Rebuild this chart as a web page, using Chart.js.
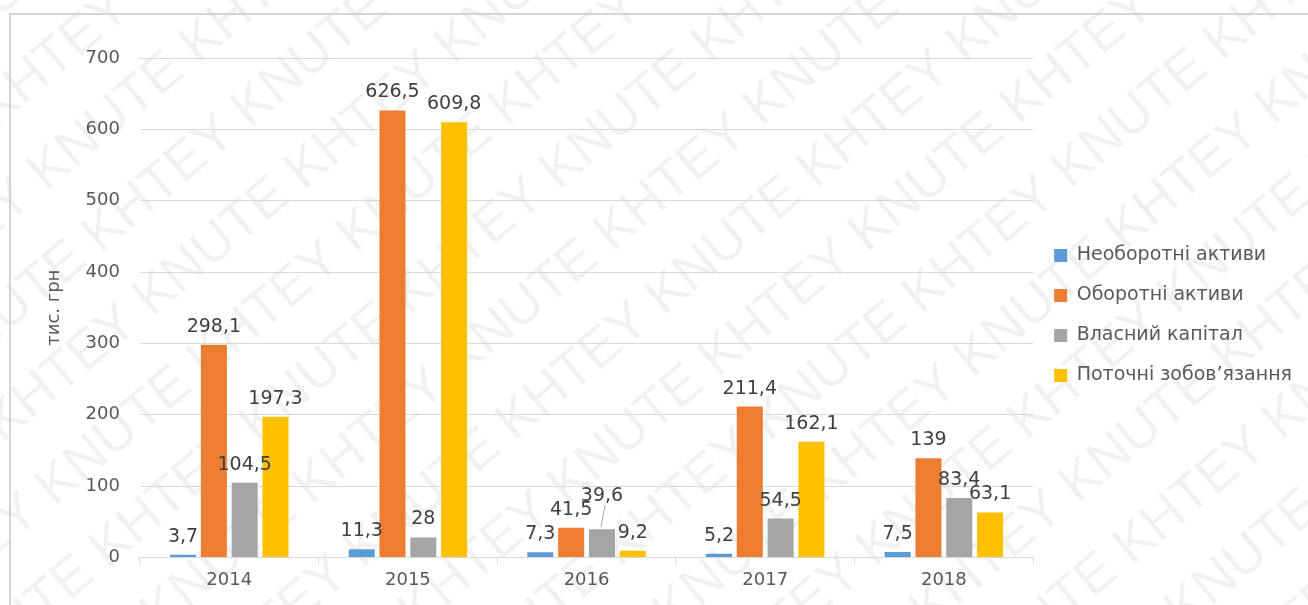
<!DOCTYPE html>
<html lang="uk">
<head>
<meta charset="utf-8">
<script src="https://cdn.jsdelivr.net/npm/chart.js@4"></script>
<style>
    html, body { margin: 0; padding: 0; background: #ffffff; }
    #wrap { width: 1308px; height: 605px; position: relative; }
</style>
</head>
<body>
<div id="wrap"><canvas id="balanceChart"></canvas></div>
<script>
// Data
const years = ['2014', '2015', '2016', '2017', '2018'];
const nonCurrentAssets = [3.7, 11.3, 7.3, 5.2, 7.5];
const currentAssets = [298.1, 626.5, 41.5, 211.4, 139];
const equity = [104.5, 28, 39.6, 54.5, 83.4];
const currentLiabilities = [197.3, 609.8, 9.2, 162.1, 63.1];
const seriesNames = ['Необоротні активи', 'Оборотні активи', 'Власний капітал', 'Поточні зобов’язання'];
const yTicks = [0, 100, 200, 300, 400, 500, 600, 700];

const textColor = '#595959';
const labelColor = '#404040';
const gridColor = '#d9d9d9';
const fontFamily = '"DejaVu Sans", sans-serif';

// Faint diagonal watermark and the outer frame, drawn under everything else
const backdropPlugin = {
    id: 'backdrop',
    beforeDraw(chart) {
        const ctx = chart.ctx;
        const w = chart.width, h = chart.height;
        ctx.save();
        ctx.fillStyle = '#ffffff';
        ctx.fillRect(0, 0, w, h);
        ctx.translate(w / 2, h / 2);
        ctx.rotate(-40 * Math.PI / 180);
        ctx.font = '54px "Liberation Sans", sans-serif';
        ctx.fillStyle = 'rgba(0, 0, 0, 0.055)';
        ctx.textBaseline = 'middle';
        const phrase = 'KHTEY KNUTE ';
        const line = phrase.repeat(10);
        const lineW = ctx.measureText(line).width;
        const phraseW = ctx.measureText(phrase).width;
        let row = 0;
        for (let y = -900; y <= 900; y += 82) {
            const shift = (row % 2) * phraseW / 2;
            ctx.fillText(line, -lineW / 2 + shift, y);
            row++;
        }
        ctx.restore();

        // frame lines (top and left)
        ctx.save();
        ctx.strokeStyle = '#c8c8c8';
        ctx.lineWidth = 1.5;
        ctx.beginPath();
        ctx.moveTo(10, h);
        ctx.lineTo(10, 14);
        ctx.lineTo(w, 14);
        ctx.stroke();
        ctx.restore();
    }
};

// Move the legend block up a little, as in the original
const legendShiftPlugin = {
    id: 'legendShift',
    afterLayout(chart) {
        if (chart.legend) {
            chart.legend.top -= 12;
            chart.legend.bottom -= 12;
        }
    }
};

// Value labels above the bars, nudged up when they would collide
const valueLabelPlugin = {
    id: 'valueLabels',
    afterDatasetsDraw(chart) {
        const ctx = chart.ctx;
        ctx.save();
        ctx.font = '19px ' + fontFamily;
        ctx.fillStyle = labelColor;
        ctx.textAlign = 'center';
        ctx.textBaseline = 'alphabetic';
        const placed = {};
        chart.data.datasets.forEach((ds, di) => {
            const meta = chart.getDatasetMeta(di);
            meta.data.forEach((bar, i) => {
                const text = String(ds.data[i]).replace('.', ',');
                const tw = ctx.measureText(text).width;
                let base = bar.y - 13;
                const boxes = placed[i] || (placed[i] = []);
                let moved = false;
                boxes.forEach(b => {
                    const overlapX = Math.abs(b.x - bar.x) < (b.w + tw) / 2;
                    const overlapY = base > b.base - 14 && base - 14 < b.base;
                    if (overlapX && overlapY) {
                        base = b.base - 14;
                        moved = true;
                    }
                });
                ctx.fillText(text, bar.x, base);
                if (moved) {
                    ctx.strokeStyle = '#a6a6a6';
                    ctx.lineWidth = 1;
                    ctx.beginPath();
                    ctx.moveTo(bar.x + 3, base + 4);
                    ctx.lineTo(bar.x - 1, bar.y - 2);
                    ctx.stroke();
                }
                boxes.push({ x: bar.x, w: tw, base: base });
            });
        });
        ctx.restore();
    }
};

function renderChart() {
    const ctx = document.getElementById('balanceChart').getContext('2d');
    const values = [nonCurrentAssets, currentAssets, equity, currentLiabilities];
    const colors = ['#5B9BD5', '#ED7D31', '#A5A5A5', '#FFC000'];

    new Chart(ctx, {
        type: 'bar',
        data: {
            labels: years,
            datasets: values.map((data, k) => ({
                label: seriesNames[k],
                data: data,
                backgroundColor: colors[k],
                borderWidth: 0,
                categoryPercentage: 0.69,
                barPercentage: 0.845
            }))
        },
        options: {
            responsive: false,
            animation: false,
            devicePixelRatio: 1,
            layout: {
                padding: { left: 44, top: 58, right: 6, bottom: 8 }
            },
            scales: {
                y: {
                    min: 0,
                    max: 700,
                    afterBuildTicks(axis) {
                        axis.ticks = yTicks.map(v => ({ value: v }));
                    },
                    border: { display: false },
                    grid: { color: gridColor, lineWidth: 1, drawTicks: false },
                    ticks: {
                        color: textColor,
                        padding: 20,
                        font: { family: fontFamily, size: 18 }
                    },
                    title: {
                        display: true,
                        text: 'тис. грн',
                        color: textColor,
                        padding: { top: 0, bottom: 0 },
                        font: { family: fontFamily, size: 18 }
                    }
                },
                x: {
                    border: { display: true, color: gridColor },
                    grid: {
                        offset: true,
                        drawOnChartArea: false,
                        drawTicks: true,
                        tickLength: 6,
                        color: gridColor
                    },
                    ticks: {
                        color: textColor,
                        padding: 6,
                        font: { family: fontFamily, size: 18 }
                    }
                }
            },
            plugins: {
                legend: {
                    display: true,
                    position: 'right',
                    labels: {
                        color: textColor,
                        boxWidth: 13,
                        boxHeight: 13,
                        padding: 21,
                        font: { family: fontFamily, size: 19 }
                    }
                },
                tooltip: { enabled: false }
            }
        },
        plugins: [backdropPlugin, legendShiftPlugin, valueLabelPlugin]
    });
}

const canvas = document.getElementById('balanceChart');
canvas.width = 1308;
canvas.height = 605;
renderChart();
</script>
</body>
</html>
